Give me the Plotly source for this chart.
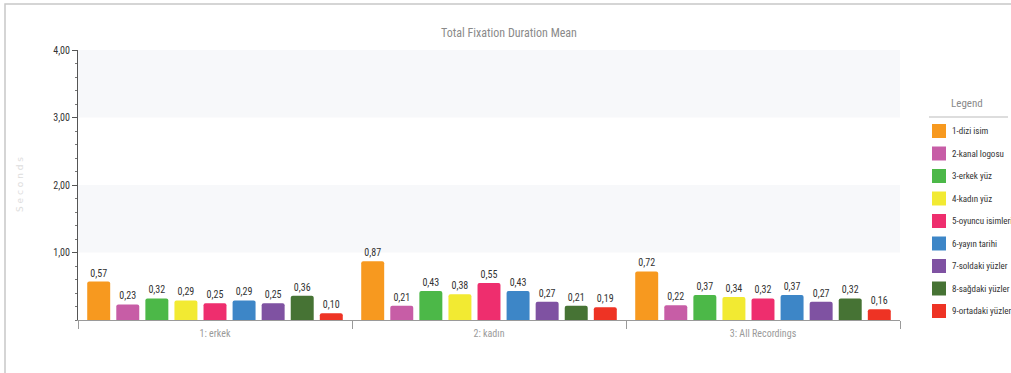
import plotly.graph_objects as go

categories = ["1: erkek", "2: kadın", "3: All Recordings"]
series_names = ["1-dizi isim", "2-kanal logosu", "3-erkek yüz", "4-kadın yüz",
                "5-oyuncu isimleri", "6-yayın tarihi", "7-soldaki yüzler",
                "8-sağdaki yüzler", "9-ortadaki yüzler"]
series_colors = ["#F7991F", "#C75DA6", "#4CB848", "#F2EA32", "#EE2E6E",
                 "#3D86C7", "#7F52A2", "#467334", "#EE3324"]
values_erkek = [0.57, 0.23, 0.32, 0.29, 0.25, 0.29, 0.25, 0.36, 0.10]
values_kadin = [0.87, 0.21, 0.43, 0.38, 0.55, 0.43, 0.27, 0.21, 0.19]
values_all = [0.72, 0.22, 0.37, 0.34, 0.32, 0.37, 0.27, 0.32, 0.16]
y_tick_vals = [1, 2, 3, 4]

W, H = 1011, 373
L, R, T, B = 78, 900, 50, 320
pw, ph = R - L, B - T

def px(x):
    return (x - L) / pw

def py(y):
    return (B - y) / ph

FONT = "Roboto Condensed, Liberation Sans Narrow, Lato, sans-serif"

fig = go.Figure()
for i, name in enumerate(series_names):
    vals = [values_erkek[i], values_kadin[i], values_all[i]]
    fig.add_trace(go.Bar(
        x=categories, y=vals, name=name, showlegend=False,
        marker=dict(color=series_colors[i], line=dict(width=0)),
        texttemplate="%{y:.2f}", textposition="outside",
        textfont=dict(family=FONT, size=10, color="#333333"),
        cliponaxis=False,
    ))

shapes = [
    dict(type="rect", xref="paper", yref="y", x0=0, x1=1, y0=3, y1=4,
         fillcolor="#F7F8FA", line=dict(width=0), layer="below"),
    dict(type="rect", xref="paper", yref="y", x0=0, x1=1, y0=1, y1=2,
         fillcolor="#F7F8FA", line=dict(width=0), layer="below"),
    dict(type="rect", xref="paper", yref="paper", x0=px(5), x1=px(1030),
         y0=py(390), y1=py(4), line=dict(color="#C8C8C8", width=1.5),
         fillcolor="rgba(0,0,0,0)"),
    dict(type="line", xref="paper", yref="paper", x0=px(929), x1=px(1008),
         y0=py(117), y1=py(117), line=dict(color="#BBBBBB", width=1)),
]

annotations = [
    dict(text="Total Fixation Duration Mean", xref="paper", yref="paper",
         x=px(509), y=py(33), showarrow=False, xanchor="center", yanchor="middle",
         font=dict(family=FONT, size=12, color="#8A8A8A")),
    dict(text="Legend", xref="paper", yref="paper",
         x=px(967), y=py(103), showarrow=False, xanchor="center", yanchor="middle",
         font=dict(family=FONT, size=11, color="#8A8A8A")),
    dict(text="S e c o n d s", xref="paper", yref="paper",
         x=px(20), y=py(185), showarrow=False, textangle=-90,
         xanchor="center", yanchor="middle",
         font=dict(family="DejaVu Sans, sans-serif", size=9, color="#DDDDDD")),
]

# custom legend (swatch + label per series)
LEG_X, LEG_Y0, LEG_DY, SW = 932, 131, 22.5, 14
for i, (name, col) in enumerate(zip(series_names, series_colors)):
    cy = LEG_Y0 + i * LEG_DY
    shapes.append(dict(type="rect", xref="paper", yref="paper",
                       x0=px(LEG_X), x1=px(LEG_X + SW),
                       y0=py(cy + SW / 2), y1=py(cy - SW / 2),
                       fillcolor=col, line=dict(width=0)))
    annotations.append(dict(text=name, xref="paper", yref="paper",
                            x=px(LEG_X + SW + 5), y=py(cy), showarrow=False,
                            xanchor="left", yanchor="middle", borderpad=0,
                            font=dict(family=FONT, size=9, color="#333333")))

fig.update_layout(
    width=W, height=H,
    margin=dict(l=L, r=W - R, t=T, b=H - B, autoexpand=False),
    paper_bgcolor="white", plot_bgcolor="white",
    separators=",.",
    barmode="group", bargap=0.045, bargroupgap=0.21, barcornerradius=2,
    showlegend=False,
    shapes=shapes, annotations=annotations,
    xaxis=dict(showline=True, linecolor="#9A9A9A", linewidth=1,
               ticks="outside", tickson="boundaries", ticklen=8, tickcolor="#9A9A9A",
               tickfont=dict(family=FONT, size=10, color="#9A9A9A"),
               ticklabelstandoff=4,
               showgrid=False, zeroline=False),
    yaxis=dict(range=[0, 4], tickvals=y_tick_vals, tickformat=".2f",
               showline=True, linecolor="#555555", linewidth=1,
               ticks="outside", ticklen=5, tickcolor="#555555",
               minor=dict(dtick=0.2, ticks="outside", ticklen=2, tickcolor="#777777"),
               tickfont=dict(family=FONT, size=10, color="#333333"),
               showgrid=False, zeroline=False),
    font=dict(family=FONT),
)

fig.write_html("out.html")
